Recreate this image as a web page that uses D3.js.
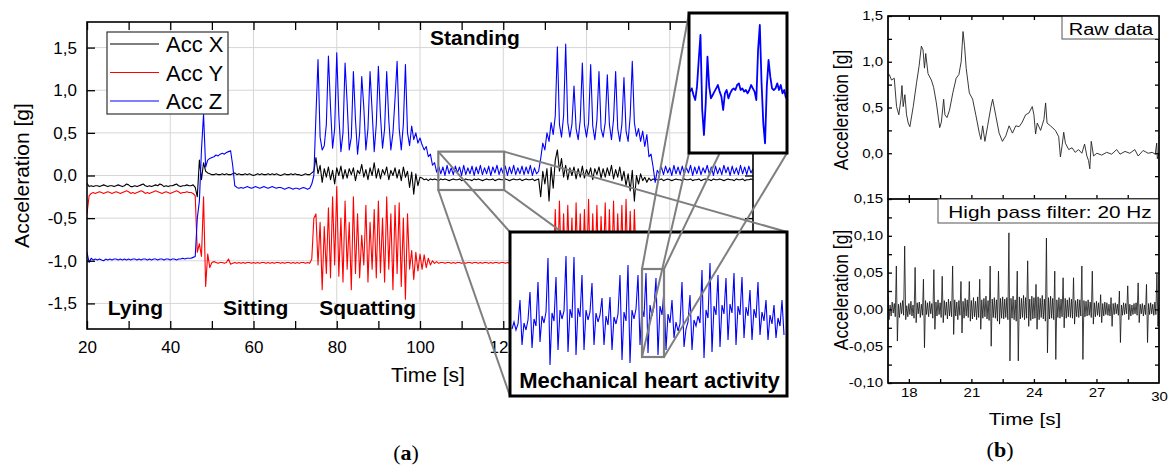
<!DOCTYPE html>
<html>
<head>
<meta charset="utf-8">
<script src="https://cdn.jsdelivr.net/npm/d3@7"></script>
<style>
  body { margin: 0; background: #fff; }
  text { font-family: "Liberation Sans", Arial, sans-serif; }
</style>
</head>
<body>
<svg id="fig" width="1169" height="466"></svg>
<script>
// ---------- data, panel (a): accelerometer, one sample every 0.5 s from t = 20 s ----------
const sampleStart = 20, sampleStep = 0.5;

const accX = [
  -0.09,-0.13,-0.12,-0.13,-0.12,-0.12,-0.13,-0.12,-0.11,-0.12,
  -0.13,-0.12,-0.12,-0.13,-0.12,-0.11,-0.12,-0.13,-0.12,-0.10,
  -0.11,-0.13,-0.13,-0.12,-0.13,-0.12,-0.11,-0.10,-0.12,-0.13,
  -0.12,-0.13,-0.12,-0.11,-0.12,-0.10,-0.11,-0.13,-0.12,-0.13,
  -0.12,-0.12,-0.11,-0.10,-0.12,-0.13,-0.12,-0.12,-0.11,-0.12,
  -0.12,-0.11,-0.14,
  -0.25,0.18,-0.05,0.15,0.05,0.03,0.02,0.01,
  0.01,0.02,0.01,0.01,0.02,0.01,0.02,0.01,0.01,0.02,
  0.03,0.01,0.02,0.01,0.01,0.02,0.01,0.02,0.01,0.00,
  0.01,0.02,0.01,0.02,0.01,0.01,0.02,0.01,0.02,0.01,
  0.02,0.01,0.00,0.01,0.02,0.01,0.01,0.02,0.01,0.02,
  0.01,0.01,0.00,0.01,0.02,0.01,0.01,0.03,
  0.05,0.21,0.02,0.12,-0.08,0.08,-0.02,0.10,-0.05,0.06,
  -0.10,0.09,0.00,0.11,-0.04,0.07,-0.03,0.08,0.01,0.09,
  -0.06,0.06,0.02,0.13,-0.02,0.07,-0.05,0.09,0.00,0.15,
  -0.03,0.08,-0.04,0.07,0.01,0.10,-0.05,0.06,0.00,0.09,
  -0.03,0.07,-0.06,0.10,-0.02,0.05,-0.14,0.04,-0.22,0.02,
  -0.12,-0.02,
  -0.03,-0.05,-0.04,-0.06,-0.04,-0.05,-0.04,-0.05,-0.06,-0.04,
  -0.05,-0.04,-0.05,-0.06,-0.05,-0.04,-0.05,-0.05,-0.04,-0.06,
  -0.05,-0.04,-0.05,-0.05,-0.06,-0.04,-0.05,-0.04,-0.05,-0.06,
  -0.05,-0.04,-0.05,-0.05,-0.04,-0.06,-0.05,-0.04,-0.05,-0.05,
  -0.04,-0.05,-0.06,-0.05,-0.04,-0.05,-0.05,-0.04,-0.06,-0.05,
  -0.04,-0.05,-0.05,-0.04,-0.06,-0.05,-0.04,
  -0.25,0.05,-0.10,0.08,-0.30,0.10,-0.15,0.18,0.30,0.05,
  0.20,-0.02,0.12,-0.05,0.09,0.00,0.10,-0.04,0.08,-0.02,
  0.11,-0.03,0.07,0.00,0.09,-0.05,0.08,0.01,0.10,-0.03,
  0.08,-0.02,0.09,0.00,0.12,-0.04,0.07,-0.02,0.10,-0.06,
  0.05,-0.12,0.02,-0.18,0.06,-0.30,0.00,-0.10,0.02,-0.06,
  -0.02,-0.08,-0.03,-0.06,-0.04,-0.05,-0.05,
  -0.05,-0.04,-0.06,-0.05,-0.04,-0.05,-0.06,-0.05,-0.04,-0.05,
  -0.05,-0.06,-0.04,-0.05,-0.05,-0.04,-0.06,-0.05,-0.05,-0.04,
  -0.06,-0.05,-0.04,-0.05,-0.05,-0.06,-0.04,-0.05,-0.05,-0.04,
  -0.05,-0.06,-0.05,-0.04,-0.05,-0.05,-0.06,-0.04,-0.05,-0.05,
  -0.04,-0.06,-0.05,-0.05,-0.04,-0.05
];

const accY = [
  -0.45,-0.24,-0.21,-0.20,-0.21,-0.20,-0.19,-0.20,-0.21,-0.20,
  -0.19,-0.20,-0.21,-0.20,-0.19,-0.20,-0.21,-0.20,-0.19,-0.18,
  -0.19,-0.21,-0.20,-0.21,-0.20,-0.19,-0.18,-0.19,-0.21,-0.20,
  -0.21,-0.20,-0.19,-0.18,-0.19,-0.20,-0.21,-0.20,-0.19,-0.20,
  -0.21,-0.20,-0.19,-0.18,-0.19,-0.21,-0.20,-0.20,-0.19,-0.20,
  -0.20,-0.21,-0.24,
  -0.90,-0.80,-0.95,-0.25,-1.30,-0.92,-1.08,-1.02,
  -1.01,-1.02,-1.03,-1.02,-1.02,-1.03,-1.02,-0.98,-1.04,-1.03,
  -1.02,-1.03,-1.02,-1.03,-1.02,-1.03,-1.02,-1.02,-1.03,-1.02,
  -1.03,-1.02,-1.03,-1.02,-1.02,-1.03,-1.02,-1.03,-1.02,-1.03,
  -1.02,-1.02,-1.03,-1.02,-1.03,-1.02,-1.02,-1.03,-1.02,-1.03,
  -1.02,-1.03,-1.02,-1.02,-1.03,-1.02,-1.03,-0.98,
  -0.50,-0.45,-1.05,-0.55,-1.34,-0.60,-1.15,-0.38,-1.20,-0.25,
  -1.05,-0.13,-1.18,-0.50,-1.25,-0.30,-1.10,-0.55,-1.34,-0.25,
  -1.15,-0.45,-1.20,-0.70,-1.05,-0.35,-1.25,-0.55,-1.10,-0.40,
  -1.20,-0.30,-1.14,-0.50,-1.25,-0.25,-1.10,-0.45,-1.34,-0.35,
  -1.15,-0.32,-1.30,-0.50,-1.45,-0.45,-1.10,-0.88,-1.22,-0.90,
  -1.12,-0.92,
  -1.10,-0.93,-1.08,-0.97,-1.05,-1.00,-1.03,-1.01,-1.03,-1.02,
  -1.02,-1.03,-1.02,-1.02,-1.03,-1.02,-1.03,-1.02,-1.02,-1.03,
  -1.02,-1.03,-1.02,-1.02,-1.03,-1.02,-1.02,-1.03,-1.02,-1.03,
  -1.02,-1.02,-1.03,-1.02,-1.03,-1.02,-1.02,-1.03,-1.02,-1.02,
  -1.03,-1.02,-1.03,-1.02,-1.02,-1.03,-1.02,-1.03,-1.02,-1.02,
  -1.03,-1.02,-1.02,-1.03,-1.02,-1.03,-1.02,
  -1.02,-0.95,-1.10,-0.90,-1.15,-0.70,-1.20,-0.40,-1.25,-0.30,
  -1.20,-0.45,-1.25,-0.35,-1.15,-0.50,-1.30,-0.32,-1.20,-0.45,
  -1.25,-0.40,-1.15,-0.28,-1.30,-0.45,-1.20,-0.35,-1.25,-0.48,
  -1.15,-0.32,-1.30,-0.40,-1.20,-0.30,-1.25,-0.45,-1.15,-0.35,
  -1.30,-0.28,-1.20,-0.42,-1.25,-0.40,-1.10,-0.90,-1.05,-0.98,
  -1.04,-1.00,-1.03,-1.01,-1.02,-1.03,-1.02,
  -1.02,-1.03,-1.02,-1.02,-1.03,-1.02,-1.03,-1.02,-1.02,-1.03,
  -1.02,-1.03,-1.02,-1.02,-1.03,-1.02,-1.03,-1.02,-1.02,-1.03,
  -1.02,-1.03,-1.02,-1.02,-1.03,-1.02,-1.03,-1.02,-1.02,-1.03,
  -1.02,-1.03,-1.02,-1.02,-1.03,-1.02,-1.03,-1.02,-1.02,-1.03,
  -1.02,-1.03,-1.02,-1.02,-1.03,-1.02
];

const accZ = [
  -0.90,-1.02,-0.97,-0.99,-0.98,-0.99,-0.98,-0.99,-1.00,-0.98,
  -0.99,-0.98,-0.99,-0.98,-0.98,-0.99,-0.98,-0.99,-0.98,-0.99,
  -0.98,-0.99,-0.98,-0.98,-0.99,-0.98,-0.99,-0.98,-0.98,-0.99,
  -0.98,-0.99,-0.98,-0.98,-0.99,-0.98,-0.98,-0.99,-0.98,-0.98,
  -0.99,-0.98,-0.98,-0.99,-0.98,-0.98,-0.97,-0.98,-0.97,-0.97,
  -0.97,-0.96,-0.95,
  -0.50,-0.30,0.30,0.72,0.10,0.18,0.20,0.21,
  0.22,0.24,0.23,0.25,0.26,0.25,0.27,0.28,0.29,0.12,
  -0.12,-0.14,-0.15,-0.14,-0.15,-0.14,-0.13,-0.14,-0.15,-0.14,
  -0.13,-0.14,-0.15,-0.14,-0.13,-0.14,-0.15,-0.14,-0.13,-0.14,
  -0.15,-0.14,-0.14,-0.15,-0.16,-0.15,-0.14,-0.15,-0.16,-0.15,
  -0.15,-0.16,-0.15,-0.14,-0.15,-0.16,-0.15,-0.10,
  0.00,0.70,1.36,0.45,0.30,0.35,0.60,1.40,0.80,0.32,
  0.55,1.44,0.70,0.28,0.50,1.32,0.85,0.30,0.45,1.22,
  0.65,0.25,0.50,1.16,0.80,0.30,0.55,1.22,0.75,0.28,
  0.60,1.28,0.70,0.32,0.55,1.22,0.65,0.30,0.50,0.90,
  1.34,0.55,0.30,0.60,1.30,0.50,0.35,0.58,0.42,0.50,
  0.38,0.44,
  0.36,0.30,0.34,0.22,0.25,0.12,0.15,0.04,0.11,0.02,
  0.10,0.00,0.12,0.02,0.09,0.01,0.11,0.03,0.10,0.00,
  0.12,0.01,0.09,0.02,0.11,0.00,0.10,0.02,0.12,0.01,
  0.09,0.02,0.11,0.00,0.10,0.03,0.12,0.01,0.09,0.02,
  0.11,0.00,0.10,0.02,0.12,0.01,0.09,0.02,0.11,0.01,
  0.10,0.02,0.12,0.00,0.09,0.02,0.05,
  0.20,0.38,0.30,0.50,0.40,0.62,0.48,0.70,1.51,0.60,
  0.45,0.70,1.54,0.62,0.45,0.60,1.05,0.55,0.42,0.65,
  1.32,0.60,0.45,0.62,1.30,0.58,0.42,0.65,1.22,0.55,
  0.45,0.62,1.18,0.60,0.42,0.66,1.22,0.55,0.40,0.60,
  1.15,0.52,0.40,0.70,1.34,0.62,0.46,0.55,0.40,0.52,
  0.34,0.48,0.22,0.25,0.10,-0.08,0.06,
  0.02,0.10,0.01,0.11,0.03,0.09,0.00,0.12,0.02,0.10,
  0.01,0.11,0.02,0.09,0.03,0.12,0.00,0.10,0.02,0.11,
  0.01,0.09,0.03,0.12,0.02,0.10,0.00,0.11,0.02,0.09,
  0.01,0.12,0.03,0.10,0.00,0.11,0.02,0.09,0.01,0.12,
  0.02,0.10,0.01,0.11,0.03,0.08
];

const seriesNames = ["Acc X", "Acc Y", "Acc Z"];
const seriesColors = ["#000000", "#ff0000", "#0000ff"];
const activityLabels = [
  {text: "Lying", t: 25, v: -1.63},
  {text: "Sitting", t: 52.7, v: -1.63},
  {text: "Squatting", t: 75.8, v: -1.63},
  {text: "Standing", t: 102.4, v: 1.53}
];
const yTicksA = [-1.5, -1.0, -0.5, 0.0, 0.5, 1.0, 1.5];

// zoom window (time / acceleration) shown enlarged in the big inset
const zoomWin = {t0: 104.4, t1: 120.2, v0: -0.17, v1: 0.28};

// big inset: Acc Z sampled densely inside the zoom window (arbitrary units)
const heartBand = [
  -0.9,-0.2,-1.0,-0.4,2.0,-2.5,-0.3,-1.0,0.0,2.8,
  -2.8,0.1,-0.6,3.8,-2.2,0.4,-0.3,0.8,6.2,-4.5,
  0.7,-0.1,4.3,-3.0,1.0,0.1,0.9,6.4,-3.2,1.1,
  0.2,6.3,-3.5,1.2,0.3,4.5,-3.0,1.0,0.0,0.8,
  3.7,-2.5,0.7,-0.2,0.5,2.2,-2.5,0.4,-0.5,2.3,
  -3.0,0.3,-0.4,0.6,4.5,-4.0,0.8,-0.1,5.5,-4.3,
  1.0,0.1,1.1,4.5,-2.5,1.2,0.3,4.7,-3.3,1.5,
  0.4,1.3,4.2,-3.5,1.4,0.5,3.0,-3.0,0.6,-0.3,
  2.0,-1.8,-0.2,-1.1,-0.4,3.8,-2.7,-0.9,-0.2,2.5,
  -3.0,0.0,-0.6,0.4,-0.3,5.0,-3.8,1.0,0.2,5.7,
  -3.2,1.4,0.5,4.5,-2.7,1.5,0.6,4.2,-2.0,1.6,
  0.7,4.7,-2.5,1.4,0.5,4.3,-1.8,1.3,0.4,3.0,
  -2.0,1.1,0.2,3.8,-1.5,0.8,-0.1,2.0,-2.0,0.5,
  -0.4,1.5,-1.8,0.2,-0.6,2.0,-1.5
];
// inner window of the big inset (sample index / units) shown in the top-right inset
const beatWin = {i0: 65, i1: 76, v0: -3.7, v1: 5.1};

// top-right inset: two heart beats (arbitrary units)
const beatPair = [
  0.05,0.15,-0.05,-0.20,0.20,1.00,1.75,-0.50,-1.25,-0.30,
  1.10,0.20,-0.15,-0.05,0.05,0.15,0.25,0.05,-0.10,-0.50,
  0.00,0.10,-0.15,0.00,0.10,0.15,0.10,0.25,0.30,0.10,
  0.15,0.05,0.10,0.00,0.10,0.25,0.15,0.05,-0.20,1.30,
  2.05,0.30,-0.90,-1.50,0.20,1.00,0.50,0.15,0.10,0.15,
  0.30,0.10,0.25,0.00,0.10,-0.15
];

// ---------- data, panel (b) ----------
const rawT = [17.00,17.06,17.17,17.30,17.41,17.52,17.62,17.67,17.73,17.81,17.89,17.97,18.05,18.21,18.37,18.49,18.60,18.68,18.75,18.81,
  18.92,19.08,19.19,19.32,19.48,19.56,19.67,19.73,19.83,19.95,20.11,20.27,20.40,20.51,20.60,20.67,20.75,20.90,21.06,21.22,
  21.38,21.46,21.54,21.65,21.78,21.94,22.02,22.18,22.33,22.49,22.65,22.81,22.97,23.13,23.29,23.44,23.60,23.76,23.92,24.00,
  24.08,24.16,24.32,24.48,24.56,24.63,24.79,25.03,25.19,25.27,25.35,25.43,25.51,25.67,25.83,25.98,26.14,26.30,26.43,26.54,
  26.62,26.68,26.75,26.86,27.02,27.25,27.49,27.73,27.97,28.13,28.37,28.60,28.84,29.00,29.24,29.48,29.67,29.82,29.89,29.92,30.00];
const rawV = [0.85,0.86,0.80,0.82,0.51,0.42,0.59,0.74,0.51,0.64,0.42,0.33,0.29,0.51,0.77,0.95,1.17,1.13,0.93,1.09,
  0.87,0.80,0.72,0.55,0.28,0.34,0.59,0.42,0.39,0.47,0.66,0.82,0.86,1.00,1.33,1.18,0.93,0.66,0.59,0.41,
  0.22,0.15,0.30,0.13,0.30,0.51,0.59,0.40,0.22,0.13,0.19,0.30,0.22,0.30,0.29,0.34,0.42,0.44,0.51,0.42,
  0.21,0.33,0.25,0.37,0.55,0.33,0.30,0.25,0.18,-0.04,0.08,0.23,0.11,0.04,0.06,0.01,0.04,0.00,0.10,-0.03,
  -0.08,-0.17,0.13,-0.03,0.00,-0.02,0.01,-0.01,0.04,-0.01,0.02,0.00,0.04,-0.03,0.03,0.00,0.01,-0.01,0.11,-0.06,0.00];

// high-pass filtered signal, one sample every 0.05 s from t = 17 s
const hpStart = 17, hpStep = 0.05;
const hpV = [
  0.018,-0.014,0.006,-0.009,0.010,-0.005,0.008,-0.010,0.059,-0.043,
  0.007,-0.011,0.009,-0.006,0.012,-0.008,0.086,-0.014,0.005,-0.010,
  0.008,-0.007,0.011,-0.009,0.006,-0.012,0.057,-0.018,0.009,-0.006,
  0.010,-0.011,0.007,-0.008,0.041,-0.052,0.012,-0.007,0.009,-0.010,
  0.011,-0.006,0.008,-0.012,0.054,-0.027,0.010,-0.009,0.013,-0.007,
  0.009,-0.011,0.045,-0.018,0.012,-0.008,0.010,-0.013,0.014,-0.009,
  0.011,-0.010,0.059,-0.034,0.013,-0.009,0.010,-0.014,0.012,-0.008,
  0.038,-0.032,0.011,-0.012,0.015,-0.009,0.013,-0.011,0.038,-0.016,
  0.012,-0.013,0.016,-0.010,0.011,-0.014,0.017,-0.011,0.041,-0.027,
  0.013,-0.012,0.015,-0.010,0.018,-0.013,0.012,-0.015,0.059,-0.050,
  0.014,-0.011,0.016,-0.012,0.013,-0.016,0.052,-0.020,0.015,-0.012,
  0.017,-0.013,0.014,-0.011,0.016,-0.014,0.104,-0.070,0.015,-0.012,
  0.018,-0.014,0.013,-0.016,0.052,-0.070,0.017,-0.013,0.015,-0.011,
  0.019,-0.014,0.016,-0.012,0.066,-0.023,0.014,-0.015,0.018,-0.013,
  0.016,-0.012,0.034,-0.027,0.017,-0.014,0.015,-0.011,0.019,-0.013,
  0.014,-0.016,0.097,-0.059,0.016,-0.013,0.018,-0.012,0.015,-0.014,
  0.052,-0.068,0.013,-0.011,0.016,-0.012,0.014,-0.010,0.043,-0.025,
  0.015,-0.012,0.013,-0.010,0.016,-0.011,0.014,-0.012,0.043,-0.020,
  0.012,-0.010,0.014,-0.011,0.013,-0.009,0.059,-0.068,0.012,-0.010,
  0.011,-0.009,0.013,-0.008,0.010,-0.011,0.052,-0.020,0.009,-0.010,
  0.011,-0.008,0.009,-0.010,0.020,-0.018,0.008,-0.009,0.010,-0.007,
  0.009,-0.008,0.007,-0.009,0.016,-0.023,0.008,-0.007,0.009,-0.006,
  0.007,-0.008,0.025,-0.045,0.006,-0.008,0.009,-0.007,0.008,-0.006,
  0.032,-0.014,0.007,-0.009,0.006,-0.007,0.008,-0.006,0.009,-0.008,
  0.036,-0.018,0.007,-0.006,0.008,-0.009,0.006,-0.007,0.034,-0.045,
  0.008,-0.007,0.009,-0.006,0.007,-0.008,0.010,-0.007,0.048,-0.023,
  0.006
];
const yTicksB1 = [0.0, 0.5, 1.0, 1.5];
const yTicksB2 = [-0.10, -0.05, 0.00, 0.05, 0.10, 0.15];

// ---------- drawing ----------
const svg = d3.select("#fig");
const FONT = "'Liberation Sans', Arial, sans-serif";
const comma = (f) => (d) => d3.format(f)(d).replace(".", ",").replace("\u2212", "-");

function styleAxis(g, size, textTransform) {
  g.select(".domain").remove();
  g.selectAll(".tick line").attr("stroke", "#000").attr("stroke-width", 1.3);
  g.selectAll("text").attr("fill", "#000")
    .style("font-family", FONT).style("font-size", size + "px");
  if (textTransform) g.selectAll("text").attr("transform", textTransform);
}

/* ===== panel (a) ===== */
const xA = d3.scaleLinear().domain([20, 180]).range([87, 753]);
const yA = d3.scaleLinear().domain([-1.8, 1.8]).range([329, 22]);

svg.append("clipPath").attr("id", "clipA")
  .append("rect").attr("x", 87).attr("y", 22).attr("width", 666).attr("height", 307);

// gridlines
svg.append("g").selectAll("line")
  .data(d3.range(40, 180, 20)).join("line")
  .attr("x1", d => xA(d)).attr("x2", d => xA(d))
  .attr("y1", yA(1.8)).attr("y2", yA(-1.8))
  .attr("stroke", "#d6d6d6").attr("stroke-width", 1);
svg.append("g").selectAll("line")
  .data(yTicksA).join("line")
  .attr("x1", xA(20)).attr("x2", xA(180))
  .attr("y1", d => yA(d)).attr("y2", d => yA(d))
  .attr("stroke", "#d6d6d6").attr("stroke-width", 1);

// signals
const lineA = d3.line()
  .x((d, i) => xA(sampleStart + i * sampleStep))
  .y(d => yA(d));
const plotA = svg.append("g").attr("clip-path", "url(#clipA)");
[accX, accY, accZ].forEach((s, k) => {
  plotA.append("path").datum(s)
    .attr("d", lineA)
    .attr("fill", "none")
    .attr("stroke", seriesColors[k])
    .attr("stroke-width", 1.1)
    .attr("stroke-linejoin", "round");
});

// axes (ticks inward on all four sides)
const xTicksA = d3.range(20, 181, 10);
styleAxis(svg.append("g").attr("transform", `translate(0,${yA(-1.8)})`)
  .call(d3.axisBottom(xA).tickValues(xTicksA).tickSize(-8).tickPadding(12)
    .tickFormat(d => d % 20 ? "" : d)), 17);
styleAxis(svg.append("g").attr("transform", `translate(0,${yA(1.8)})`)
  .call(d3.axisTop(xA).tickValues(xTicksA).tickSize(-8).tickFormat("")), 17);
styleAxis(svg.append("g").attr("transform", `translate(${xA(20)},0)`)
  .call(d3.axisLeft(yA).tickValues(yTicksA).tickSize(-8).tickPadding(10)
    .tickFormat(comma(".1f"))), 17);
styleAxis(svg.append("g").attr("transform", `translate(${xA(180)},0)`)
  .call(d3.axisRight(yA).tickValues(yTicksA).tickSize(-8).tickFormat("")), 17);

svg.append("rect")
  .attr("x", xA(20)).attr("y", yA(1.8))
  .attr("width", xA(180) - xA(20)).attr("height", yA(-1.8) - yA(1.8))
  .attr("fill", "none").attr("stroke", "#000").attr("stroke-width", 1.6);

// axis titles
svg.append("text")
  .attr("transform", `translate(29,${yA(0)}) rotate(-90)`)
  .attr("text-anchor", "middle")
  .style("font-size", "21px")
  .text("Acceleration [g]");
svg.append("text")
  .attr("x", 428).attr("y", 382)
  .attr("text-anchor", "middle")
  .style("font-size", "21px")
  .text("Time [s]");

// activity labels
svg.append("g").selectAll("text")
  .data(activityLabels).join("text")
  .attr("x", d => xA(d.t)).attr("y", d => yA(d.v))
  .style("font-size", "21px").style("font-weight", "bold")
  .text(d => d.text);

// legend
const leg = svg.append("g");
leg.append("rect").attr("x", 107).attr("y", 32).attr("width", 121).attr("height", 82)
  .attr("fill", "#fff").attr("stroke", "#333").attr("stroke-width", 1.2);
seriesNames.forEach((name, k) => {
  const y = 44 + k * 28.5;
  leg.append("line").attr("x1", 110).attr("x2", 159).attr("y1", y).attr("y2", y)
    .attr("stroke", seriesColors[k]).attr("stroke-width", 1.2);
  leg.append("text").attr("x", 166).attr("y", y + 8)
    .style("font-size", "22px").text(name);
});

// zoom window and connectors to the big inset
const gray = "#7f7f7f";
const zw = {x0: xA(zoomWin.t0), x1: xA(zoomWin.t1), y0: yA(zoomWin.v1), y1: yA(zoomWin.v0)};
const big = {x0: 510, y0: 232, x1: 787, y1: 396};
const conn1 = [
  [zw.x0, zw.y0, big.x0, big.y0], [zw.x1, zw.y0, big.x1, big.y0],
  [zw.x0, zw.y1, big.x0, big.y1], [zw.x1, zw.y1, big.x1, big.y1]
];
svg.append("g").selectAll("line").data(conn1).join("line")
  .attr("x1", d => d[0]).attr("y1", d => d[1]).attr("x2", d => d[2]).attr("y2", d => d[3])
  .attr("stroke", gray).attr("stroke-width", 2);
svg.append("rect").attr("x", zw.x0).attr("y", zw.y0)
  .attr("width", zw.x1 - zw.x0).attr("height", zw.y1 - zw.y0)
  .attr("fill", "none").attr("stroke", gray).attr("stroke-width", 2.2);

// big inset
svg.append("rect").attr("x", big.x0).attr("y", big.y0)
  .attr("width", big.x1 - big.x0).attr("height", big.y1 - big.y0)
  .attr("fill", "#fff").attr("stroke", "none");
const xBig = d3.scaleLinear().domain([0, heartBand.length - 1]).range([512, 784]);
const yBig = d3.scaleLinear().domain([-7.6, 8.8]).range([big.y1, big.y0]);
svg.append("path").datum(heartBand)
  .attr("d", d3.line().x((d, i) => xBig(i)).y(d => yBig(d)))
  .attr("fill", "none").attr("stroke", "#0000ff").attr("stroke-width", 1.1);
svg.append("text").attr("x", (big.x0 + big.x1) / 2 + 1).attr("y", 388)
  .attr("text-anchor", "middle")
  .style("font-size", "22px").style("font-weight", "bold")
  .text("Mechanical heart activity");
svg.append("rect").attr("x", big.x0).attr("y", big.y0)
  .attr("width", big.x1 - big.x0).attr("height", big.y1 - big.y0)
  .attr("fill", "none").attr("stroke", "#000").attr("stroke-width", 3);

// inner window and connectors to the top-right inset
const bw = {x0: xBig(beatWin.i0), x1: xBig(beatWin.i1), y0: yBig(beatWin.v1), y1: yBig(beatWin.v0)};
const small = {x0: 689, y0: 13, x1: 787, y1: 153};
const conn2 = [
  [bw.x0, bw.y0, small.x0, small.y0], [bw.x1, bw.y0, small.x1, small.y0],
  [bw.x0, bw.y1, small.x0, small.y1], [bw.x1, bw.y1, small.x1, small.y1]
];
svg.append("g").selectAll("line").data(conn2).join("line")
  .attr("x1", d => d[0]).attr("y1", d => d[1]).attr("x2", d => d[2]).attr("y2", d => d[3])
  .attr("stroke", gray).attr("stroke-width", 2);
svg.append("rect").attr("x", bw.x0).attr("y", bw.y0)
  .attr("width", bw.x1 - bw.x0).attr("height", bw.y1 - bw.y0)
  .attr("fill", "none").attr("stroke", gray).attr("stroke-width", 2.2);

// top-right inset
svg.append("rect").attr("x", small.x0).attr("y", small.y0)
  .attr("width", small.x1 - small.x0).attr("height", small.y1 - small.y0)
  .attr("fill", "#fff").attr("stroke", "none");
const xSm = d3.scaleLinear().domain([0, beatPair.length - 1]).range([690, 786]);
const ySm = d3.scaleLinear().domain([-1.79, 2.41]).range([small.y1, small.y0]);
svg.append("path").datum(beatPair)
  .attr("d", d3.line().x((d, i) => xSm(i)).y(d => ySm(d)))
  .attr("fill", "none").attr("stroke", "#0000ff").attr("stroke-width", 1.8)
  .attr("stroke-linejoin", "round");
svg.append("rect").attr("x", small.x0).attr("y", small.y0)
  .attr("width", small.x1 - small.x0).attr("height", small.y1 - small.y0)
  .attr("fill", "none").attr("stroke", "#000").attr("stroke-width", 3);

svg.append("text").attr("x", 406).attr("y", 460).attr("text-anchor", "middle")
  .style("font-family", "'Liberation Serif', 'Times New Roman', serif").style("font-size", "22px")
  .call(t => {
    t.append("tspan").text("(");
    t.append("tspan").style("font-weight", "bold").text("a");
    t.append("tspan").text(")");
  });

/* ===== panel (b) ===== */
const xB = d3.scaleLinear().domain([17, 30]).range([888, 1159]);
const yB1 = d3.scaleLinear().domain([-0.5, 1.5]).range([199, 16]);
const yB2 = d3.scaleLinear().domain([-0.10, 0.15]).range([383, 199]);
const stretch = "scale(1.25,1)";

svg.append("clipPath").attr("id", "clipB1").append("rect")
  .attr("x", 888).attr("y", 16).attr("width", 271).attr("height", 183);
svg.append("clipPath").attr("id", "clipB2").append("rect")
  .attr("x", 888).attr("y", 199).attr("width", 271).attr("height", 184);

svg.append("g").attr("clip-path", "url(#clipB1)")
  .append("path").datum(rawT.map((t, i) => [t, rawV[i]]))
  .attr("d", d3.line().x(d => xB(d[0])).y(d => yB1(d[1])))
  .attr("fill", "none").attr("stroke", "#222").attr("stroke-width", 0.9);

svg.append("g").attr("clip-path", "url(#clipB2)")
  .append("path").datum(hpV)
  .attr("d", d3.line().x((d, i) => xB(hpStart + i * hpStep)).y(d => yB2(d)))
  .attr("fill", "none").attr("stroke", "#111").attr("stroke-width", 0.8);

const xMinorB = d3.range(18, 29.9, 1.5);
[[yB1, 16], [yB1, 199], [yB2, 199], [yB2, 383]].forEach(([ys, y], k) => {
  const down = k % 2 === 0;
  styleAxis(svg.append("g").attr("transform", `translate(0,${y})`)
    .call((down ? d3.axisTop(xB) : d3.axisBottom(xB)).tickValues(xMinorB).tickSize(-4)
      .tickPadding(5.5).tickFormat(d => (k === 3 && d % 3 === 0) ? d : "")), 12, stretch);
});
styleAxis(svg.append("g").attr("transform", "translate(0,383)")
  .call(d3.axisBottom(xB).tickValues([30]).tickSize(0).tickPadding(9.5)), 12, stretch);

styleAxis(svg.append("g").attr("transform", "translate(888,0)")
  .call(d3.axisLeft(yB1).tickValues(d3.range(0, 1.51, 0.25)).tickSize(-4).tickPadding(4)
    .tickFormat(d => yTicksB1.includes(d) ? comma(".1f")(d) : "")), 12, stretch);
styleAxis(svg.append("g").attr("transform", "translate(1159,0)")
  .call(d3.axisRight(yB1).tickValues(d3.range(-0.25, 1.51, 0.25)).tickSize(-4).tickFormat("")), 12);
styleAxis(svg.append("g").attr("transform", "translate(888,0)")
  .call(d3.axisLeft(yB2).tickValues(d3.range(-0.1, 0.151, 0.025)).tickSize(-4).tickPadding(4)
    .tickFormat(d => yTicksB2.some(v => Math.abs(v - d) < 1e-9) ? comma(".2f")(d) : "")), 12, stretch);
styleAxis(svg.append("g").attr("transform", "translate(1159,0)")
  .call(d3.axisRight(yB2).tickValues(d3.range(-0.075, 0.14, 0.025)).tickSize(-4).tickFormat("")), 12);

[[16, 183], [199, 184]].forEach(([y, h]) => {
  svg.append("rect").attr("x", 888).attr("y", y).attr("width", 271).attr("height", h)
    .attr("fill", "none").attr("stroke", "#000").attr("stroke-width", 1.3);
});

// legend boxes
svg.append("rect").attr("x", 1062).attr("y", 16).attr("width", 97).attr("height", 23)
  .attr("fill", "#fff").attr("stroke", "#555").attr("stroke-width", 1);
svg.append("text").attr("transform", `translate(1111,35) ${stretch}`)
  .attr("text-anchor", "middle").style("font-size", "16px").text("Raw data");
svg.append("rect").attr("x", 938).attr("y", 199).attr("width", 221).attr("height", 24)
  .attr("fill", "#fff").attr("stroke", "#555").attr("stroke-width", 1);
svg.append("text").attr("transform", "translate(1050,218) scale(1.3,1)")
  .attr("text-anchor", "middle").style("font-size", "16px").text("High pass filter: 20 Hz");
svg.append("rect").attr("x", 888).attr("y", 16).attr("width", 271).attr("height", 367)
  .attr("fill", "none").attr("stroke", "#000").attr("stroke-width", 1.3);

// axis titles
[110, 290].forEach(cy => {
  svg.append("text").attr("transform", `translate(848,${cy}) rotate(-90) scale(1,1.2)`)
    .attr("text-anchor", "middle").style("font-size", "17.5px").text("Acceleration [g]");
});
svg.append("text").attr("transform", `translate(1025,425) ${stretch}`)
  .attr("text-anchor", "middle").style("font-size", "16.5px").text("Time [s]");

svg.append("text").attr("x", 1000).attr("y", 457).attr("text-anchor", "middle")
  .style("font-family", "'Liberation Serif', 'Times New Roman', serif").style("font-size", "22px")
  .call(t => {
    t.append("tspan").text("(");
    t.append("tspan").style("font-weight", "bold").text("b");
    t.append("tspan").text(")");
  });
</script>
</body>
</html>
